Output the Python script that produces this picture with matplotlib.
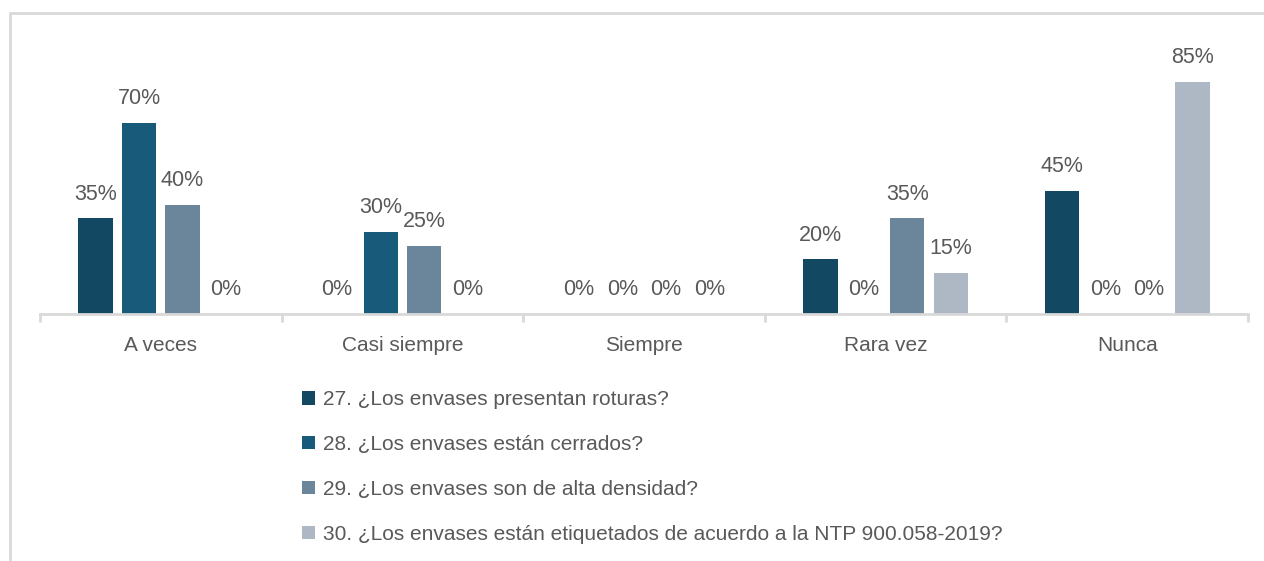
import numpy as np
import matplotlib.pyplot as plt
from matplotlib.patches import Patch, Rectangle

# --- Data ---
categories = ["A veces", "Casi siempre", "Siempre", "Rara vez", "Nunca"]
series_names = [
    "27. ¿Los envases presentan roturas?",
    "28. ¿Los envases están cerrados?",
    "29. ¿Los envases son de alta densidad?",
    "30. ¿Los envases están etiquetados de acuerdo a la NTP 900.058-2019?",
]
q27 = [35, 0, 0, 20, 45]
q28 = [70, 30, 0, 0, 0]
q29 = [40, 25, 0, 35, 0]
q30 = [0, 0, 0, 15, 85]
colors = ["#134862", "#175a79", "#6b869b", "#adb8c4"]

series = [q27, q28, q29, q30]
text_color = "#595959"
axis_color = "#d9d9d9"
label_font = ["Liberation Sans", "DejaVu Sans"]

W, H = 1264, 561
fig = plt.figure(figsize=(W / 100, H / 100), dpi=100)

# outer chart frame (left and top edges visible)
fig.patches.append(Rectangle((10 / W, -0.1), 1.2, 1 - 13 / H + 0.1,
                             transform=fig.transFigure, fill=False,
                             edgecolor="#d9d9d9", linewidth=2))

# plot area: baseline at y=314px, 100% at y=41px, x from 40 to 1248px
ax = fig.add_axes([40 / W, 1 - 314 / H, (1248 - 40) / W, (314 - 41) / H])
ax.set_xlim(0, len(categories))
ax.set_ylim(0, 100)

x = np.arange(len(categories)) + 0.5
step = 0.18
width = 0.142
for i, (vals, c) in enumerate(zip(series, colors)):
    xs = x + (i - 1.5) * step
    ax.bar(xs, vals, width=width, color=c)
    for xi, v in zip(xs, vals):
        ax.text(xi, v + 5, f"{v}%", ha="center", va="bottom",
                fontsize=15.5, color=text_color, family=label_font)

for s in ["top", "right", "left"]:
    ax.spines[s].set_visible(False)
ax.spines["bottom"].set_color(axis_color)
ax.spines["bottom"].set_linewidth(2)
ax.set_yticks([])
ax.set_xticks(np.arange(len(categories) + 1), minor=False)
ax.set_xticklabels([])
ax.tick_params(axis="x", which="major", length=6, width=2, color=axis_color)
ax.set_xticks(x, minor=True)
ax.set_xticklabels(categories, minor=True)
ax.tick_params(axis="x", which="minor", length=0, pad=16, labelsize=15,
               labelcolor=text_color)
for lbl in ax.get_xticklabels(minor=True):
    lbl.set_family(label_font)

handles = [Patch(facecolor=c, edgecolor="none") for c in colors]
leg = fig.legend(handles, series_names, loc="upper left",
                 bbox_to_anchor=(294 / W, 1 - 382 / H), frameon=False,
                 handlelength=0.6, handleheight=0.6, handletextpad=0.4,
                 labelspacing=1.24, borderaxespad=0,
                 prop={"family": label_font, "size": 15})
for t in leg.get_texts():
    t.set_color(text_color)

fig.savefig("out.png", dpi=100)
